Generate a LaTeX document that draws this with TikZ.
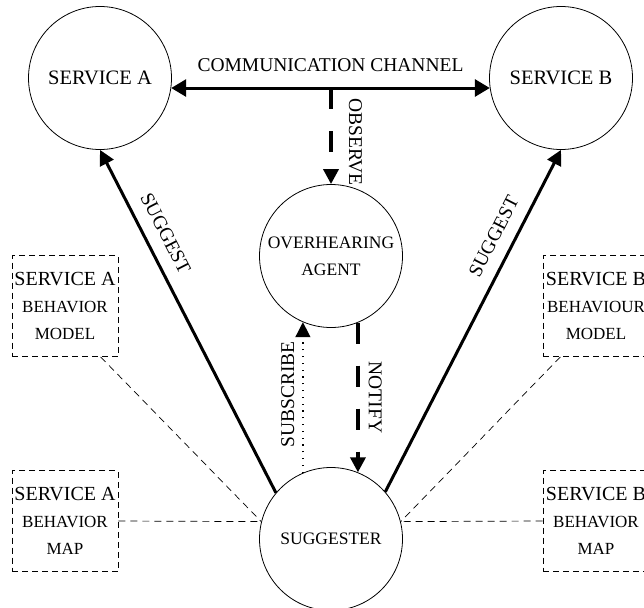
\documentclass[tikz,border=0pt]{standalone}
\usepackage{fontspec}
\setmainfont{Liberation Serif}
\usetikzlibrary{arrows.meta,positioning}

\begin{document}
\begin{tikzpicture}[x=1pt, y=-1pt,
  agent/.style={circle, draw, line width=0.8pt, minimum size=143pt, inner sep=0pt, align=center},
  modelbox/.style={draw, dash pattern=on 6pt off 4pt, line width=0.8pt, minimum width=106pt, minimum height=101pt, inner sep=0pt, align=center, font=\fontsize{17}{27}\selectfont},
  link/.style={dash pattern=on 7pt off 5pt, line width=0.7pt},
  tip/.style={-{Triangle[length=15pt,width=15pt]}},
  big/.style={font=\fontsize{19.5}{24}\selectfont},
  small/.style={font=\fontsize{17.5}{27}\selectfont}]

\useasboundingbox (0,0) rectangle (644,607);
\clip (0,0) rectangle (644,607);

\node[agent, big, font=\fontsize{20.5}{24}\selectfont] (srvA) at (100,78) {SERVICE A};
\node[agent, big, font=\fontsize{20.5}{24}\selectfont] (srvB) at (561,78) {SERVICE B};
\node[agent, small] (ovh) at (331,256) {OVERHEARING\\AGENT};
\node[agent, small] (sug) at (331,539) {SUGGESTER};

\foreach \s/\x/\w in {A/65/BEHAVIOR, B/596/BEHAVIOUR} {
  \node[modelbox] (model\s) at (\x,306) {{\fontsize{20}{27}\selectfont SERVICE \s}\\\w\\MODEL};
  \node[modelbox] (map\s) at (\x,521) {{\fontsize{20}{27}\selectfont SERVICE \s}\\BEHAVIOR\\MAP};
}

\draw[line width=3pt, {Triangle[length=15pt,width=17pt]}-{Triangle[length=15pt,width=17pt]}]
  (srvA.-8) -- node[above=11pt, big] (chanlbl) {COMMUNICATION CHANNEL} (srvB.188);

\coordinate (tap) at (ovh.north |- srvA.-8);
\draw[line width=3.5pt, dash pattern=on 21pt off 22pt, tip] (tap) --
  node[pos=0.56, rotate=-90, anchor=south, inner sep=16pt, big] (obslbl) {OBSERVE} (ovh.north);

\draw[line width=1.3pt, dash pattern=on 1.3pt off 5.5pt, tip] (sug.113) --
  node[pos=0.52, rotate=90, anchor=south, inner sep=8pt, big] (sublbl) {SUBSCRIBE} (ovh.247);
\draw[line width=3.5pt, dash pattern=on 21pt off 22pt, tip] (ovh.292) --
  node[pos=0.5, rotate=-90, anchor=south, inner sep=9pt, big] (notlbl) {NOTIFY} (sug.68);

\draw[line width=3pt, tip] (sug.140) -- node[pos=0.73, sloped, above=9pt, big] (sugAlbl) {SUGGEST} (srvA.south);
\draw[line width=3pt, tip] (sug.41) -- node[pos=0.72, sloped, above=9pt, big] (sugBlbl) {SUGGEST} (srvB.south);

\foreach \s/\a/\b/\side in {A/-55/166/east, B/-125/14/west} {
  \draw[link] (model\s.\a) -- (sug.\b);
  \draw[link] (map\s.\side) -- (sug.\b);
}

\end{tikzpicture}
\end{document}
